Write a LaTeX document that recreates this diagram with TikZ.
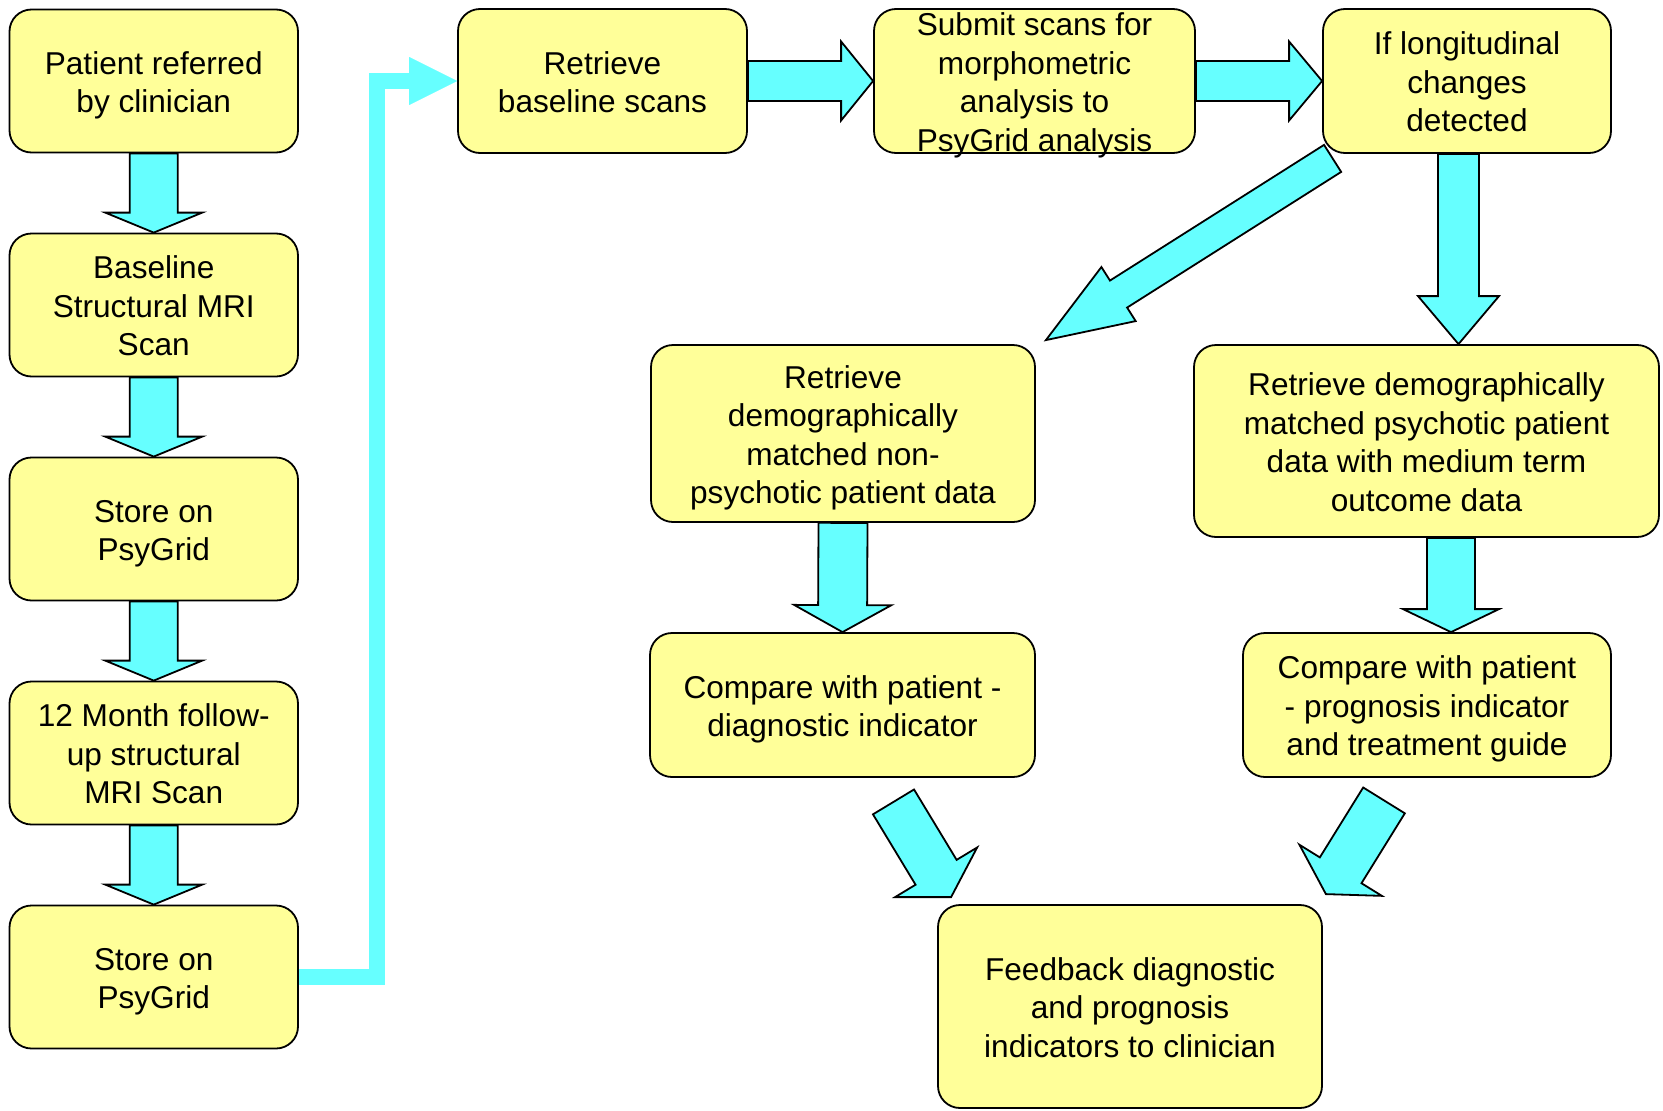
\documentclass[tikz,border=0pt]{standalone}
\usepackage{fontspec}
\setmainfont{Liberation Sans}
\usetikzlibrary{calc,arrows.meta}
\definecolor{boxyellow}{HTML}{FFFF99}
\definecolor{flowcyan}{HTML}{66FFFF}
% top strut for the first line of a box
\newcommand{\boxtop}{\rule{0pt}{32.5pt}}
% block arrow: start, tip, shaft half width, head half width, head length
\newcommand{\fatarrow}[5]{%
  \coordinate (fathead) at ($(#2)!#5!(#1)$);
  \draw[arrowbody] ($(#1)!#3!90:(#2)$) -- ($(fathead)!#3!90:(#2)$)
    -- ($(fathead)!#4!90:(#2)$) -- (#2) -- ($(fathead)!#4!-90:(#2)$)
    -- ($(fathead)!#3!-90:(#2)$) -- ($(#1)!#3!-90:(#2)$) -- cycle;}

\begin{document}
\begin{tikzpicture}[x=1pt, y=-1pt,
    box/.style={draw, line width=1.8pt, fill=boxyellow, rounded corners=22pt,
      align=center, inner sep=0pt, font=\fontsize{31.6}{38.5}\selectfont,
      execute at end node={\rule[-8pt]{0pt}{8pt}}},
    arrowbody/.style={line width=1.8pt, fill=flowcyan, line join=miter}]
  \useasboundingbox (0,0) rectangle (1663,1111);
  \draw
    (153.75,81) node[box, minimum width=288.5pt, minimum height=143pt] (referred) {\boxtop Patient referred\\by clinician}
    (153.75,305) node[box, minimum width=288.5pt, minimum height=143pt] (baseline) {\boxtop Baseline\\Structural MRI\\Scan}
    (153.75,529) node[box, minimum width=288.5pt, minimum height=143pt] (store1) {\boxtop Store on\\PsyGrid}
    (153.75,753) node[box, minimum width=288.5pt, minimum height=143pt] (followup) {\boxtop 12 Month follow-\\up structural\\MRI Scan}
    (153.75,977) node[box, minimum width=288.5pt, minimum height=143pt] (store2) {\boxtop Store on\\PsyGrid}
    (602.5,81) node[box, minimum width=289pt, minimum height=144pt] (retrieve) {\boxtop Retrieve\\baseline scans}
    (1034.5,81) node[box, minimum width=321pt, minimum height=144pt, text height=140pt, text depth=0pt] (submit) {\boxtop Submit scans for\\morphometric\\analysis to\\PsyGrid analysis}
    (1467,81) node[box, minimum width=288pt, minimum height=144pt] (ifchk) {\boxtop If longitudinal\\changes\\detected}
    (843,433.5) node[box, minimum width=384pt, minimum height=177pt] (nonpsy) {\boxtop Retrieve\\demographically\\matched non-\\psychotic patient data}
    (1426.5,441) node[box, minimum width=465pt, minimum height=192pt] (psymatch) {\boxtop Retrieve demographically\\matched psychotic patient\\data with medium term\\outcome data}
    (842.5,705) node[box, minimum width=385pt, minimum height=144pt] (diag) {\boxtop Compare with patient -\\diagnostic indicator}
    (1427,705) node[box, minimum width=368pt, minimum height=144pt] (prog) {\boxtop Compare with patient\\- prognosis indicator\\and treatment guide}
    (1130,1006.5) node[box, minimum width=384pt, minimum height=203pt] (feedback) {\boxtop Feedback diagnostic\\and prognosis\\indicators to clinician};
  \begin{scope}
    \fatarrow{referred.south}{baseline.north}{24pt}{48.5pt}{20pt}
    \fatarrow{baseline.south}{store1.north}{24pt}{48.5pt}{20pt}
    \fatarrow{store1.south}{followup.north}{24pt}{48.5pt}{20pt}
    \fatarrow{followup.south}{store2.north}{24pt}{48.5pt}{20pt}
    \draw[flowcyan, line width=16pt, line join=miter,
      -{Triangle[length=48pt, width=48pt, line width=0.01pt]}]
      (store2.east) -- ++(78,0) |- (retrieve.west);
    \fatarrow{retrieve.east}{submit.west}{20pt}{39.5pt}{32pt}
    \fatarrow{submit.east}{ifchk.west}{20pt}{39.5pt}{33pt}
    \coordinate (ifout) at ($(ifchk.south)+(-8.5,0)$);
    \coordinate (psyin) at (ifout |- psymatch.north);
    \fatarrow{ifout}{psyin}{20.5pt}{40.5pt}{48pt}
    \coordinate (ifdiag) at ($(ifchk.south west)+(10.5,4.5)$);
    \coordinate (nonin) at ($(nonpsy.north east)+(10,-4)$);
    \fatarrow{ifdiag}{nonin}{16pt}{32pt}{86pt}
    \fatarrow{nonpsy.south}{diag.north}{24.5pt}{48.5pt}{27pt}
    \coordinate (psyout) at ($(psymatch.south)+(24.5,0)$);
    \coordinate (progin) at (psyout |- prog.north);
    \fatarrow{psyout}{progin}{24pt}{48pt}{23pt}
    \coordinate (diagout) at ($(diag.south)+(51,24)$);
    \coordinate (fbleft) at ($(feedback.north west)+(14,-7)$);
    \fatarrow{diagout}{fbleft}{24pt}{48pt}{29pt}
    \coordinate (progout) at ($(prog.south)+(-43,22.5)$);
    \coordinate (fbright) at ($(feedback.north east)+(3,-10)$);
    \fatarrow{progout}{fbright}{24.5pt}{48.5pt}{28pt}
  \end{scope}
\end{tikzpicture}
\end{document}
